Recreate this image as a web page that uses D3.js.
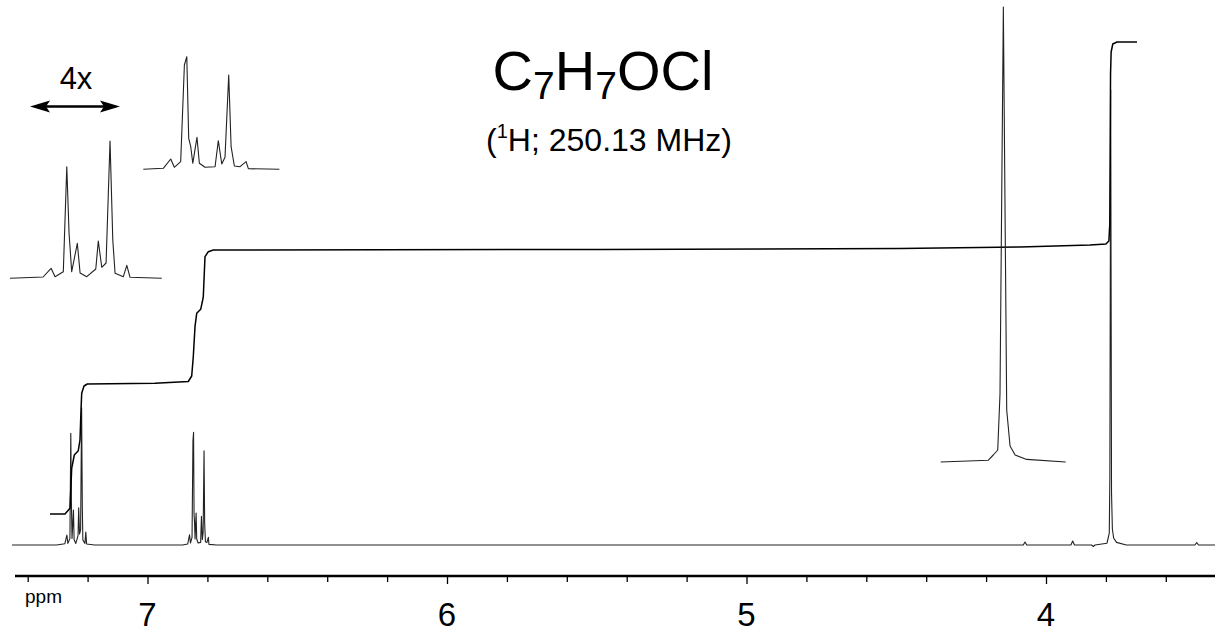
<!DOCTYPE html>
<html><head><meta charset="utf-8">
<script src="https://cdn.jsdelivr.net/npm/d3@7"></script>
<style>
body{margin:0;background:#fff}
svg{display:block}
text{font-family:"Liberation Sans",Arial,Helvetica,sans-serif;fill:#000}
</style>
</head><body>
<svg id="chart" width="1215" height="632"></svg>
<script>
// 1H NMR spectrum (250.13 MHz) of C7H7OCl (4-chloroanisole).
// Every trace is a list of [chemical shift (ppm), intensity] points.

const axisTicks = [7.4,7.2,7.0,6.8,6.6,6.4,6.2,6.0,5.8,5.6,5.4,5.2,5.0,4.8,4.6,4.4,4.2,4.0,3.8,3.6];
const axisLabels = [7,6,5,4];

// aromatic multiplet, H ortho to Cl
const aromaticA = [
  [7.3035,0],[7.2759,1.3],[7.2692,10],[7.2659,1.6],[7.2590,6.6],[7.2561,111.6],
  [7.2542,45],[7.2520,6.6],[7.2473,35],[7.2450,5.3],[7.2394,1.6],[7.2319,9.3],
  [7.2298,37.3],[7.2269,11],[7.2233,15.3],[7.2200,137.3],[7.2177,38.3],[7.2158,5],
  [7.2089,1.6],[7.2060,13],[7.2033,1],[7.1768,0]
];
// aromatic multiplet, H ortho to OMe
const aromaticB = [
  [6.8825,0],[6.8658,1],[6.8596,10.3],[6.8566,2],[6.8513,7.6],[6.8482,104.3],
  [6.8462,112.6],[6.8446,31],[6.8429,22.6],[6.8412,6],[6.8377,32],[6.8357,6],
  [6.8310,2],[6.8226,2.6],[6.8199,28.6],[6.8170,5.3],[6.8143,12],[6.8112,94.3],
  [6.8092,22.6],[6.8065,3.3],[6.8017,2.6],[6.7967,7.6],[6.7948,0.6],[6.7689,0]
];
// OCH3 singlet
const methoxy = [
  [3.8363,0],[3.7965,1.8],[3.7924,7],[3.7887,12],[3.7868,68],[3.7840,455],
  [3.7812,52],[3.7784,16],[3.7742,7],[3.7645,2.6],[3.7320,0]
];
// weak impurity lines
const minorLines = [
  [4.0760,0],[4.0701,3],[4.0642,0],
  [3.9168,0],[3.9109,4],[3.9050,0],
  [3.8480,0],[3.8420,-1.5],[3.8360,0],
  [3.5027,0],[3.4968,2.5],[3.4909,0]
];
const spectrumEnds = [[7.4524,0],[3.4356,0]];

// running integral
const integral = [
  [7.3255,0],[7.2755,0],[7.2588,5.7],[7.2531,45.7],[7.2444,59],[7.2311,63.3],
  [7.2254,74],[7.2220,104],[7.2197,120.7],[7.2120,128],[7.2010,130],[6.9750,130.7],
  [6.8638,132.5],[6.8524,138],[6.8471,157.3],[6.8414,187.3],[6.8357,200.7],
  [6.8224,204.7],[6.8157,214],[6.8137,217.3],[6.8080,257.3],[6.7970,262.3],
  [6.7803,264],[5.4891,264.5],[4.4875,265.5],[4.0868,267],[3.8531,269],
  [3.8000,270],[3.7900,273],[3.7870,290],[3.7855,380],[3.7845,440],[3.7825,462],
  [3.7770,470],[3.7629,472],[3.6962,472]
];

const svg = d3.select("#chart");

const x = d3.scaleLinear().domain([7, 4]).range([147.5, 1046]);
const y = d3.scaleLinear().domain([0, 455]).range([545, 90]);
const yInt = d3.scaleLinear().domain([0, 472]).range([514, 42]);
const pxPerPpm = Math.abs(x(0) - x(1));

// full trace, ordered from high to low field
const fullTrace = [spectrumEnds[0], ...aromaticA, ...aromaticB, ...minorLines, ...methoxy, spectrumEnds[1]]
  .sort((a, b) => b[0] - a[0]);

const specLine = d3.line().x(d => x(d[0])).y(d => y(d[1]));
svg.append("path").datum(fullTrace)
  .attr("d", specLine).attr("fill", "none")
  .attr("stroke", "#222").attr("stroke-width", 1.1).attr("stroke-linejoin", "round");

// integral curve
svg.append("path").datum(integral)
  .attr("d", d3.line().x(d => x(d[0])).y(d => yInt(d[1])))
  .attr("fill", "none").attr("stroke", "#000").attr("stroke-width", 1.5)
  .attr("stroke-linejoin", "round");

// 4x horizontal expansions of each signal
function drawExpansion(data, left, baseline) {
  const p0 = data[0][0], p1 = data[data.length - 1][0];
  const xs = d3.scaleLinear().domain([p0, p1]).range([left, left + (p0 - p1) * pxPerPpm * 4]);
  const ys = d3.scaleLinear().domain([0, 455]).range([baseline, baseline - 455]);
  svg.append("path").datum(data)
    .attr("d", d3.line().x(d => xs(d[0])).y(d => ys(d[1])))
    .attr("fill", "none").attr("stroke", "#222").attr("stroke-width", 1.1)
    .attr("stroke-linejoin", "round");
}
drawExpansion(aromaticA, 10, 278.3);
drawExpansion(aromaticB, 143.3, 169.3);
drawExpansion(methoxy, 940.7, 462);

// expansion marker
const arrow = svg.append("g");
arrow.append("line").attr("x1", 40).attr("x2", 110).attr("y1", 106.5).attr("y2", 106.5)
  .attr("stroke", "#000").attr("stroke-width", 2.5);
arrow.append("path").attr("d", "M30,106.5 L50,100.5 L46,106.5 L50,112.5 Z").attr("fill", "#000");
arrow.append("path").attr("d", "M120,106.5 L100,100.5 L104,106.5 L100,112.5 Z").attr("fill", "#000");
svg.append("text").attr("x", 76).attr("y", 89).attr("text-anchor", "middle")
  .attr("font-size", 31).text("4x");

// axis
const axis = d3.axisBottom(x).tickValues(axisTicks)
  .tickSize(6).tickFormat("");
const gAxis = svg.append("g").attr("transform", "translate(0,576)").call(axis);
gAxis.select(".domain").remove();
gAxis.selectAll(".tick line").attr("stroke", "#000").attr("stroke-width", 1.3)
  .attr("y2", d => axisLabels.includes(Math.round(d * 10) / 10) ? 8 : 6);
svg.append("line").attr("x1", 15).attr("x2", 1215).attr("y1", 576).attr("y2", 576)
  .attr("stroke", "#000").attr("stroke-width", 2.5);
svg.selectAll(".ppmlabel").data(axisLabels).enter().append("text")
  .attr("class", "ppmlabel").attr("x", d => x(d)).attr("y", 626)
  .attr("text-anchor", "middle").attr("font-size", 33).text(d => d);
svg.append("text").attr("x", 25).attr("y", 603).attr("font-size", 19).text("ppm");

// title
const title = svg.append("text").attr("x", 603).attr("y", 90)
  .attr("text-anchor", "middle").attr("font-size", 56);
title.append("tspan").text("C");
title.append("tspan").attr("font-size", 39).attr("dy", 9).text("7");
title.append("tspan").attr("dy", -9).text("H");
title.append("tspan").attr("font-size", 39).attr("dy", 9).text("7");
title.append("tspan").attr("dy", -9).text("OCl");

const sub = svg.append("text").attr("x", 609).attr("y", 151)
  .attr("text-anchor", "middle").attr("font-size", 32);
sub.append("tspan").text("(");
sub.append("tspan").attr("font-size", 20).attr("dy", -13).text("1");
sub.append("tspan").attr("dy", 13).text("H; 250.13 MHz)");
</script>
</body></html>
